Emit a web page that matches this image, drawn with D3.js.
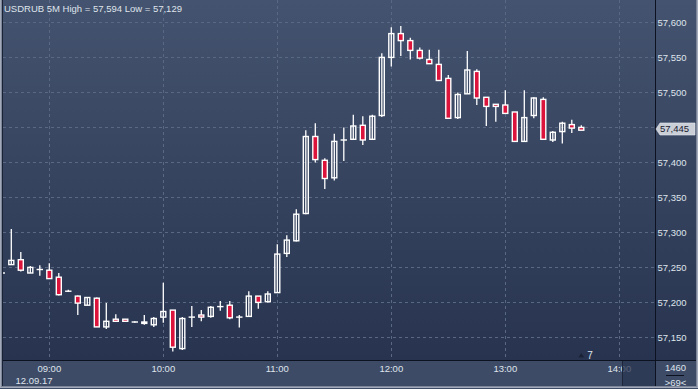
<!DOCTYPE html>
<html>
<head>
<meta charset="utf-8">
<script src="https://cdn.jsdelivr.net/npm/d3@7"></script>
<style>
  html, body { margin: 0; padding: 0; background: #3a4762; }
  svg { display: block; }
  text { font-family: "Liberation Sans", Arial, sans-serif; font-size: 9.5px; fill: #dfe4ec; }
</style>
</head>
<body>
<svg id="chart" width="698" height="389"></svg>
<script>
// USDRUB 5M candles, 12.09.17 (08:35 - 13:40)
var times = ["08:35","08:40","08:45","08:50","08:55","09:00","09:05","09:10","09:15","09:20","09:25","09:30",
  "09:35","09:40","09:45","09:50","09:55","10:00","10:05","10:10","10:15","10:20","10:25","10:30",
  "10:35","10:40","10:45","10:50","10:55","11:00","11:05","11:10","11:15","11:20","11:25","11:30",
  "11:35","11:40","11:45","11:50","11:55","12:00","12:05","12:10","12:15","12:20","12:25","12:30",
  "12:35","12:40","12:45","12:50","12:55","13:00","13:05","13:10","13:15","13:20","13:25","13:30",
  "13:35","13:40"];
var opens = [57.241,57.253,57.260,57.241,57.246,57.245,57.235,57.215,57.208,57.195,57.205,57.164,
  57.175,57.175,57.171,57.171,57.167,57.178,57.188,57.133,57.178,57.181,57.179,57.193,
  57.195,57.178,57.179,57.208,57.200,57.213,57.269,57.287,57.326,57.436,57.402,57.377,
  57.431,57.432,57.452,57.432,57.466,57.549,57.583,57.573,57.559,57.546,57.539,57.519,
  57.463,57.497,57.529,57.492,57.482,57.481,57.471,57.429,57.466,57.489,57.431,57.443,
  57.453,57.449];
var highs = [57.242,57.304,57.271,57.251,57.252,57.255,57.241,57.217,57.209,57.206,57.206,57.198,
  57.182,57.175,57.172,57.181,57.178,57.227,57.188,57.178,57.194,57.188,57.194,57.201,
  57.201,57.181,57.215,57.208,57.215,57.282,57.295,57.332,57.445,57.455,57.405,57.440,
  57.449,57.467,57.465,57.467,57.555,57.592,57.594,57.577,57.563,57.560,57.560,57.524,
  57.499,57.558,57.532,57.492,57.482,57.502,57.471,57.502,57.492,57.492,57.444,57.457,
  57.460,57.452];
var lows = [57.240,57.253,57.243,57.241,57.237,57.233,57.209,57.214,57.181,57.195,57.164,57.161,
  57.171,57.171,57.170,57.167,57.164,57.170,57.129,57.131,57.164,57.172,57.177,57.187,
  57.175,57.163,57.179,57.190,57.199,57.213,57.264,57.286,57.325,57.399,57.361,57.373,
  57.401,57.432,57.424,57.431,57.464,57.536,57.551,57.546,57.546,57.540,57.516,57.462,
  57.461,57.497,57.481,57.451,57.457,57.469,57.429,57.428,57.462,57.432,57.428,57.426,
  57.441,57.445];
var closes = [57.241,57.259,57.245,57.249,57.246,57.233,57.210,57.215,57.198,57.206,57.164,57.172,
  57.172,57.172,57.171,57.169,57.176,57.186,57.135,57.176,57.178,57.178,57.192,57.193,
  57.177,57.178,57.208,57.199,57.211,57.268,57.288,57.325,57.436,57.403,57.376,57.429,
  57.431,57.451,57.431,57.465,57.549,57.583,57.573,57.559,57.548,57.540,57.516,57.462,
  57.496,57.531,57.491,57.479,57.479,57.469,57.429,57.463,57.491,57.432,57.442,57.455,
  57.448,57.445];

var priceTicks = [57.15, 57.20, 57.25, 57.30, 57.35, 57.40, 57.45, 57.50, 57.55, 57.60];
var hourTicks = ["09:00","10:00","11:00","12:00","13:00","14:00"];
var dateLabel = "12.09.17";
var title = "USDRUB 5M High = 57,594 Low = 57,129";
var barsInfo = ["1460", ">69<"];
var markerText = "7";

var svg = d3.select("#chart");
var W = 698, H = 389;
var plot = { left: 3, right: 655, top: 0, bottom: 360 };

var ru = d3.formatLocale({ decimal: ",", thousands: " ", grouping: [3], currency: ["", ""] });
var fmt = ru.format(".3f");

var parseT = function (s) {
    var p = s.split(":");
    return new Date(2017, 8, 12, +p[0], +p[1]);
};

var candles = times.map(function (t, i) {
    return { t: parseT(t), o: opens[i], h: highs[i], l: lows[i], c: closes[i] };
});
var last = candles[candles.length - 1];

var x = d3.scaleTime()
    .domain([parseT("09:00"), parseT("14:00")])
    .range([49.3, 619.3]);

var y = d3.scaleLinear()
    .domain([57.15, 57.60])
    .range([336.7, 21.7]);

// backgrounds
var defs = svg.append("defs");
var grad = defs.append("linearGradient")
    .attr("id", "bg")
    .attr("x1", 0).attr("y1", 0).attr("x2", 0).attr("y2", 1);
grad.append("stop").attr("offset", "0%").attr("stop-color", "#44536f");
grad.append("stop").attr("offset", "100%").attr("stop-color", "#28344f");

defs.append("clipPath").attr("id", "clip")
    .append("rect")
    .attr("x", plot.left).attr("y", plot.top)
    .attr("width", plot.right - plot.left).attr("height", plot.bottom - plot.top);

svg.append("rect")
    .attr("x", 0).attr("y", 0).attr("width", W).attr("height", plot.bottom)
    .attr("fill", "url(#bg)");

// x axis strip
svg.append("rect")
    .attr("x", 0).attr("y", plot.bottom).attr("width", W).attr("height", H - plot.bottom)
    .attr("fill", "#3e4b67");

// grid
var grid = svg.append("g").attr("clip-path", "url(#clip)");
grid.selectAll(".hgrid")
    .data(priceTicks)
    .enter().append("line")
    .attr("class", "hgrid")
    .attr("x1", plot.left).attr("x2", plot.right)
    .attr("y1", d => Math.round(y(d)) + 0.5).attr("y2", d => Math.round(y(d)) + 0.5)
    .attr("stroke", "#5b6884").attr("stroke-dasharray", "3,3");
grid.selectAll(".vgrid")
    .data(hourTicks)
    .enter().append("line")
    .attr("class", "vgrid")
    .attr("y1", plot.top).attr("y2", plot.bottom)
    .attr("x1", d => Math.round(x(parseT(d))) + 0.5).attr("x2", d => Math.round(x(parseT(d))) + 0.5)
    .attr("stroke", "#5b6884").attr("stroke-dasharray", "3,3");

// candles
var bodyW = 5;
var g = svg.append("g").attr("clip-path", "url(#clip)");
var candle = g.selectAll(".candle")
    .data(candles)
    .enter().append("g")
    .attr("class", "candle");

candle.append("line")
    .attr("x1", d => x(d.t)).attr("x2", d => x(d.t))
    .attr("y1", d => y(d.h)).attr("y2", d => y(d.l))
    .attr("stroke", "#ffffff").attr("stroke-width", 1.3);

candle.append("rect")
    .attr("x", d => x(d.t) - bodyW / 2)
    .attr("width", bodyW)
    .attr("y", d => y(Math.max(d.o, d.c)))
    .attr("height", d => Math.max(0.01, Math.abs(y(d.o) - y(d.c))))
    .attr("fill", d => d.c < d.o ? "#dc143c" : "#334060")
    .attr("fill-opacity", d => d.c < d.o ? 1 : 0)
    .attr("stroke", "#ffffff")
    .attr("stroke-width", 1.4);

// title
svg.append("text")
    .attr("x", 4).attr("y", 12)
    .text(title);

// frame lines
svg.append("line")
    .attr("x1", 0).attr("x2", W).attr("y1", plot.bottom + 0.5).attr("y2", plot.bottom + 0.5)
    .attr("stroke", "#0d1220");
svg.append("line")
    .attr("x1", plot.right + 0.5).attr("x2", plot.right + 0.5).attr("y1", 0).attr("y2", H - 2)
    .attr("stroke", "#0d1220");
svg.append("line")
    .attr("x1", 2.5).attr("x2", 2.5).attr("y1", 0).attr("y2", H - 2)
    .attr("stroke", "#1a2236");

// right axis (the tick hidden under the last-price tag is not shown)
var ly = y(last.c) - 1.2;
var yAxis = svg.append("g").attr("class", "yaxis");
yAxis.selectAll("text")
    .data(priceTicks.filter(d => Math.abs(y(d) - ly) > 10))
    .enter().append("text")
    .attr("x", 657.5)
    .attr("y", d => y(d))
    .attr("dy", "0.4em")
    .text(d => fmt(d));

// last price label
svg.append("path")
    .attr("d", "M656," + ly + " L660," + (ly - 6) + " L695," + (ly - 6) + " L695," + (ly + 6) + " L660," + (ly + 6) + " Z")
    .attr("fill", "#c9ced7")
    .attr("stroke", "#e8ebf0").attr("stroke-width", 0.6);
svg.append("text")
    .attr("x", 660).attr("y", ly).attr("dy", "0.36em")
    .style("fill", "#1b2030")
    .text(fmt(last.c));

// x axis labels
svg.selectAll(".xlab")
    .data(hourTicks)
    .enter().append("text")
    .attr("class", "xlab")
    .attr("x", d => x(parseT(d)))
    .attr("y", 372)
    .attr("text-anchor", "middle")
    .text(d => d);

svg.append("text")
    .attr("x", 15.5).attr("y", 383.5)
    .text(dateLabel);

// scroll box bottom-right of the time axis
svg.append("rect")
    .attr("x", 623).attr("y", 361).attr("width", 32).attr("height", 26)
    .attr("fill", "#2a3551").attr("fill-opacity", 0.75);
svg.append("line")
    .attr("x1", 622.5).attr("x2", 622.5).attr("y1", 361).attr("y2", 387)
    .attr("stroke", "#1e2739");

// marker near last bar
var mx = x(last.t);
svg.append("path")
    .attr("d", "M" + (mx - 3) + ",357.5 L" + mx + ",353 L" + (mx + 3) + ",357.5 Z")
    .attr("fill", "#1a2236");
svg.append("text")
    .attr("x", mx + 6).attr("y", 359)
    .style("font-size", "10px")
    .text(markerText);

// bars info corner
svg.append("text")
    .attr("x", 675.5).attr("y", 371)
    .attr("text-anchor", "middle")
    .text(barsInfo[0]);
svg.append("line")
    .attr("x1", 666).attr("x2", 684).attr("y1", 375.5).attr("y2", 375.5)
    .attr("stroke", "#0d1220");
svg.append("text")
    .attr("x", 675.5).attr("y", 386)
    .attr("text-anchor", "middle")
    .text(barsInfo[1]);

// outer border
svg.append("rect")
    .attr("x", 0.5).attr("y", -1).attr("width", W - 1).attr("height", H - 0.5)
    .attr("fill", "none")
    .attr("stroke", "#a3abba").attr("stroke-width", 1);
svg.append("rect")
    .attr("x", 1.5).attr("y", -1).attr("width", W - 3).attr("height", H - 1.5)
    .attr("fill", "none")
    .attr("stroke", "#7d8799").attr("stroke-width", 1);
</script>
</body>
</html>
